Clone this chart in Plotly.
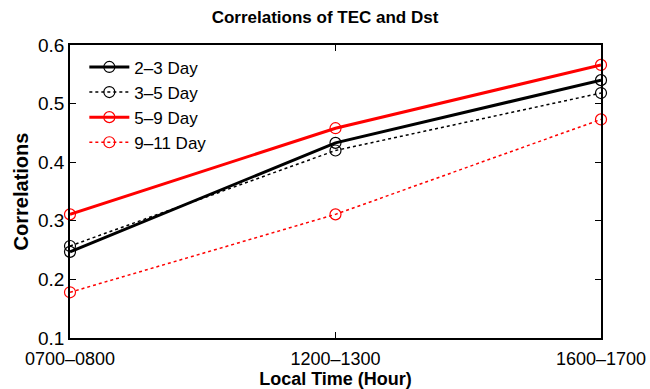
import plotly.graph_objects as go

categories = ["0700–0800", "1200–1300", "1600–1700"]
s_2_3 = [0.247, 0.433, 0.540]
s_3_5 = [0.257, 0.420, 0.518]
s_5_9 = [0.311, 0.458, 0.566]
s_9_11 = [0.178, 0.311, 0.473]

xpos = list(range(len(categories)))

series = [
    ("2–3 Day", s_2_3, "black", "solid", 3),
    ("3–5 Day", s_3_5, "black", "dot", 1.5),
    ("5–9 Day", s_5_9, "red", "solid", 3),
    ("9–11 Day", s_9_11, "red", "dot", 1.5),
]

fig = go.Figure()
for name, vals, col, dash, w in series:
    fig.add_trace(go.Scatter(
        x=xpos, y=vals, name=name, mode="lines+markers",
        line=dict(color=col, dash=dash, width=w),
        marker=dict(symbol="circle-open", size=11, color=col, line=dict(width=1.2, color=col)),
        cliponaxis=False,
    ))

font = "Liberation Sans, Arial, Helvetica, sans-serif"
fig.update_layout(
    width=650, height=389,
    margin=dict(l=70, r=49, t=45, b=51),
    paper_bgcolor="white", plot_bgcolor="white",
    font=dict(family=font, size=18, color="black"),
    title=dict(text="<b>Correlations of TEC and Dst</b>", x=0.5, xanchor="center",
               y=1 - 17/389, yanchor="middle", font=dict(size=17)),
    legend=dict(x=0.027, y=0.985, xanchor="left", yanchor="top",
                bgcolor="rgba(255,255,255,0)", font=dict(size=17),
                tracegroupgap=0, itemwidth=40),
    showlegend=True,
)
fig.update_xaxes(
    range=[0, 2], tickvals=xpos, ticktext=categories, automargin=False,
    showline=True, linecolor="black", linewidth=1.5, mirror="ticks",
    ticks="inside", ticklen=6, tickcolor="black", showgrid=False, zeroline=False,
    title=dict(text="<b>Local Time (Hour)</b>", font=dict(size=18)),
    tickfont=dict(size=18), ticklabelstandoff=4,
)
fig.update_yaxes(
    range=[0.1, 0.6], dtick=0.1, tickformat=".1f", automargin=False,
    showline=True, linecolor="black", linewidth=1.5, mirror="ticks",
    ticks="inside", ticklen=6, tickcolor="black", showgrid=False, zeroline=False,
    title=dict(text="<b>Correlations</b>", standoff=4, font=dict(size=20)),
    tickfont=dict(size=19),
)

fig.write_html("out.html")
